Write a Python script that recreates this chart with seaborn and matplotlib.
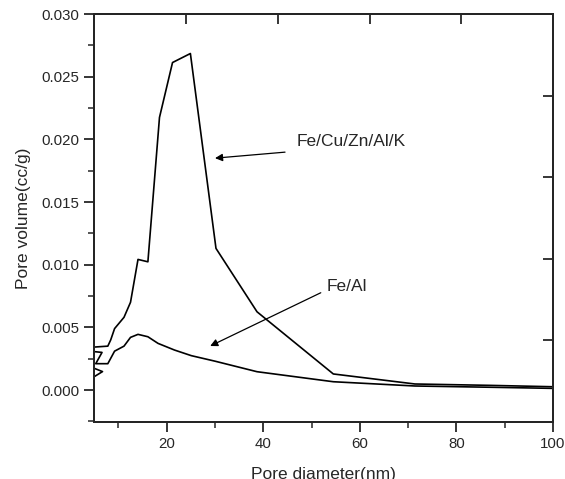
# plot.py
# Pore size distribution (BJH) for the two catalysts, redrawn with seaborn.
# Saves out.png (565x479 px).

import pandas as pd
import matplotlib
matplotlib.use("Agg")
import matplotlib.pyplot as plt
from matplotlib.ticker import FormatStrFormatter, MultipleLocator
import seaborn as sns

# Fe/Cu/Zn/Al/K curve (in the order the points are joined)
FECU_DIAMETER = [4.0, 6.7, 4.0, 4.0, 7.8, 8.4, 9.2, 11.15, 12.5, 14.05, 16.1,
                 18.5, 21.2, 24.9, 30.2, 38.7, 54.5, 71.4, 87.0, 100.0]
FECU_VOLUME = [0.00083, 0.00147, 0.00188, 0.0034, 0.0035, 0.0040, 0.0049, 0.0058,
               0.0070, 0.01042, 0.01023, 0.02175, 0.02613, 0.02685, 0.0113,
               0.00624, 0.00128, 0.00048, 0.00037, 0.00026]

# Fe/Al curve
FEAL_DIAMETER = [4.0, 6.6, 5.3, 7.8, 9.2, 11.15, 12.5, 14.05, 16.1, 18.2, 21.6,
                 25.1, 30.0, 38.7, 54.5, 71.4, 87.0, 100.0]
FEAL_VOLUME = [0.0031, 0.0030, 0.0021, 0.0021, 0.0031, 0.0035, 0.0042, 0.00444,
               0.00425, 0.00372, 0.00319, 0.00274, 0.0023, 0.00146, 0.00066,
               0.00032, 0.00022, 0.00013]

LABELS = ["Fe/Cu/Zn/Al/K", "Fe/Al"]
X_TICKS = [20, 40, 60, 80, 100]

df = pd.concat([
    pd.DataFrame({"diameter": FECU_DIAMETER, "volume": FECU_VOLUME, "sample": LABELS[0]}),
    pd.DataFrame({"diameter": FEAL_DIAMETER, "volume": FEAL_VOLUME, "sample": LABELS[1]}),
], ignore_index=True)

sns.set_style("ticks")
plt.rcParams["font.family"] = ["Liberation Sans", "DejaVu Sans"]
plt.rcParams["axes.linewidth"] = 1.3

fig = plt.figure(figsize=(5.65, 4.79), dpi=100)
ax = fig.add_axes([0.1669, 0.1196, 0.8119, 0.8511])

sns.lineplot(data=df, x="diameter", y="volume", hue="sample",
             palette=["black", "black"], sort=False, estimator=None,
             legend=False, linewidth=1.2, ax=ax)

ax.set_xlim(5, 100)
ax.set_ylim(-0.00253, 0.030)
ax.set_xticks(X_TICKS)
ax.xaxis.set_minor_locator(MultipleLocator(20, offset=10))
ax.yaxis.set_major_locator(MultipleLocator(0.005))
ax.yaxis.set_minor_locator(MultipleLocator(0.0025))
ax.yaxis.set_major_formatter(FormatStrFormatter("%.3f"))
ax.tick_params(which="major", direction="out", length=7, width=1.3,
               labelsize=10.8, pad=4)
ax.tick_params(which="minor", direction="out", length=4, width=1.1)
for s in ax.spines.values():
    s.set_visible(True)
    s.set_color("black")

ax.set_xlabel("Pore diameter(nm)", fontsize=12.5)
ax.set_ylabel("Pore volume(cc/g)", fontsize=12.5)
ax.xaxis.set_label_coords(0.5, -0.112)
ax.yaxis.set_label_coords(-0.138, 0.5)

# top / right axes only carry inward ticks
ax_top = ax.twiny()
ax_top.set_xlim(0, 1)
ax_top.set_xticks([0.2, 0.4, 0.6, 0.8])
ax_top.tick_params(direction="in", length=7, width=1.3, labeltop=False)
ax_right = ax.twinx()
ax_right.set_ylim(0, 1)
ax_right.set_yticks([0.2, 0.4, 0.6, 0.8])
ax_right.tick_params(direction="in", length=7, width=1.3, labelright=False)

arrow = dict(arrowstyle="-|>", color="black", lw=0.9, mutation_scale=11,
             shrinkA=0, shrinkB=0)
ax.annotate("", xy=(30.0, 0.0185), xytext=(44.5, 0.01898), arrowprops=arrow)
ax.text(46.9, 0.0195, LABELS[0], fontsize=12.5, va="baseline")
ax.annotate("", xy=(29.0, 0.00351), xytext=(51.9, 0.00776), arrowprops=arrow)
ax.text(53.2, 0.0079, LABELS[1], fontsize=12.5, va="baseline")

fig.savefig("out.png", dpi=100)
plt.close(fig)
